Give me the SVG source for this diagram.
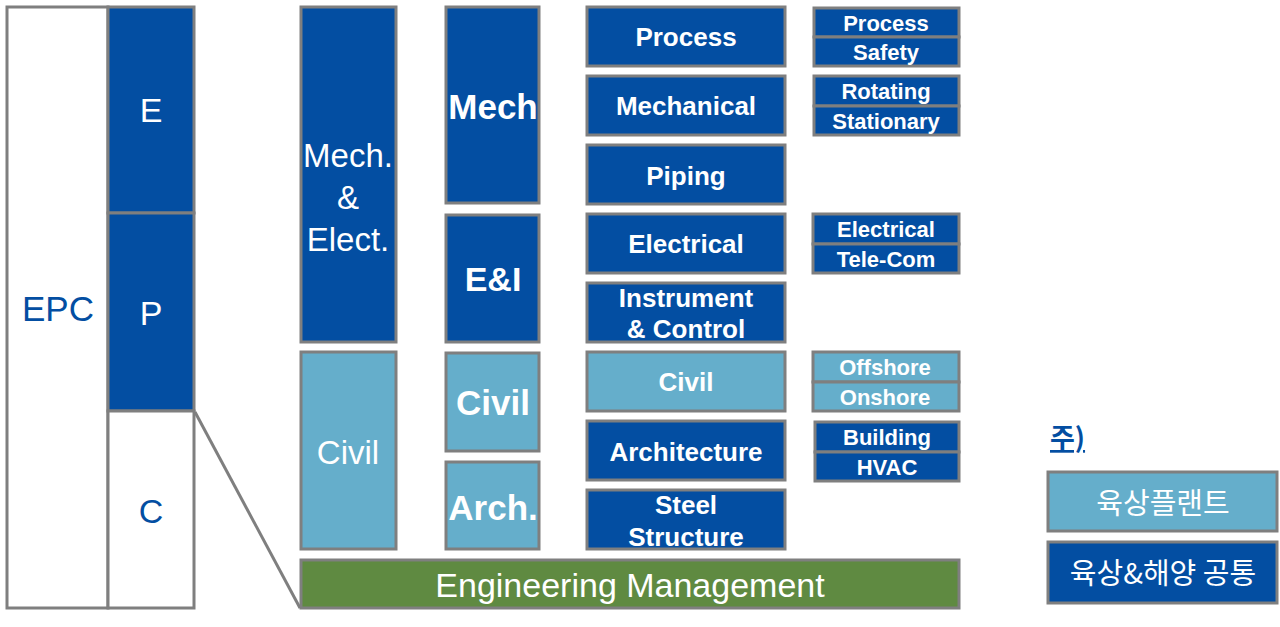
<svg xmlns="http://www.w3.org/2000/svg" width="1280" height="627" viewBox="0 0 1280 627">
<style>
.b{stroke:#7f7f7f;stroke-width:3}
.d{fill:#034ea2}
.l{fill:#65aecb}
.w{fill:#fff}
.t{font-family:"Liberation Sans",Arial,sans-serif;text-anchor:middle;dominant-baseline:central;fill:#fff}
.bd{font-weight:bold}
.k{font-family:"Noto Sans CJK KR",sans-serif;text-anchor:middle;dominant-baseline:central;fill:#fff}
</style>
<rect width="1280" height="627" fill="#fff"/>
<g id="connectors">
<line x1="195" y1="412" x2="300" y2="608" stroke="#7f7f7f" stroke-width="3"/>
</g>
<g id="epc"><rect class="b w" x="7" y="7" width="101" height="601"/><text class="t" x="58" y="308" style="fill:#034ea2;font-size:35px">EPC</text></g>
<g id="e"><rect class="b d" x="108" y="7" width="86" height="206"/><text class="t" x="151" y="110" font-size="34">E</text></g>
<g id="p"><rect class="b d" x="108" y="213" width="86" height="198"/><text class="t" x="151" y="313" font-size="34">P</text></g>
<g id="c"><rect class="b w" x="108" y="411" width="86" height="197"/><text class="t" x="151" y="511" style="fill:#034ea2;font-size:34px">C</text></g>

<g id="mech-elect"><rect class="b d" x="301" y="7" width="95" height="335"/><text class="t" font-size="33"><tspan x="348" y="155">Mech.</tspan><tspan x="348" y="197">&amp;</tspan><tspan x="348" y="239">Elect.</tspan></text></g>
<g id="civil-big"><rect class="b l" x="301" y="352" width="95" height="197"/><text class="t" x="348" y="452" font-size="33">Civil</text></g>
<g id="mech"><rect class="b d" x="446" y="7" width="93" height="196"/><text class="t bd" x="493" y="106" font-size="35">Mech</text></g>
<g id="ei"><rect class="b d" x="446" y="215" width="93" height="127"/><text class="t bd" x="493" y="279" font-size="34">E&amp;I</text></g>
<g id="civil2"><rect class="b l" x="446" y="353" width="93" height="98"/><text class="t bd" x="493" y="402" font-size="35">Civil</text></g>
<g id="arch"><rect class="b l" x="446" y="462" width="93" height="87"/><text class="t bd" x="493" y="507" font-size="35">Arch.</text></g>
<g id="em"><rect class="b" fill="#5f8a41" x="301" y="560" width="658" height="48"/><text class="t" x="630" y="585" font-size="34">Engineering Management</text></g>

<g id="process"><rect class="b d" x="587" y="7" width="198" height="59"/><text class="t bd" x="686" y="37" font-size="26">Process</text></g>
<g id="mechanical"><rect class="b d" x="587" y="76" width="198" height="59"/><text class="t bd" x="686" y="106" font-size="26">Mechanical</text></g>
<g id="piping"><rect class="b d" x="587" y="145" width="198" height="59"/><text class="t bd" x="686" y="176" font-size="26">Piping</text></g>
<g id="electrical"><rect class="b d" x="587" y="214" width="198" height="59"/><text class="t bd" x="686" y="244" font-size="26">Electrical</text></g>
<g id="instrument"><rect class="b d" x="587" y="283" width="198" height="59"/><text class="t bd" font-size="26"><tspan x="686" y="298">Instrument</tspan><tspan x="686" y="329">&amp; Control</tspan></text></g>
<g id="civil3"><rect class="b l" x="587" y="352" width="198" height="59"/><text class="t bd" x="686" y="382" font-size="26">Civil</text></g>
<g id="architecture"><rect class="b d" x="587" y="421" width="198" height="59"/><text class="t bd" x="686" y="452" font-size="26">Architecture</text></g>
<g id="steel"><rect class="b d" x="587" y="490" width="198" height="59"/><text class="t bd" font-size="26"><tspan x="686" y="505">Steel</tspan><tspan x="686" y="537">Structure</tspan></text></g>

<g id="process-safety"><rect class="b d" x="814" y="8" width="145" height="29"/><rect class="b d" x="814" y="37" width="145" height="29"/><text class="t bd" x="886" y="23" font-size="22">Process</text><text class="t bd" x="886" y="52" font-size="22">Safety</text></g>
<g id="rotating-stationary"><rect class="b d" x="814" y="76" width="145" height="30"/><rect class="b d" x="814" y="106" width="145" height="29"/><text class="t bd" x="886" y="91" font-size="22">Rotating</text><text class="t bd" x="886" y="121" font-size="22">Stationary</text></g>
<g id="elec-telecom"><rect class="b d" x="813" y="214" width="146" height="30"/><rect class="b d" x="813" y="244" width="146" height="29"/><text class="t bd" x="886" y="229" font-size="22">Electrical</text><text class="t bd" x="886" y="259" font-size="22">Tele-Com</text></g>
<g id="offshore-onshore"><rect class="b l" x="813" y="352" width="146" height="30"/><rect class="b l" x="813" y="382" width="146" height="29"/><text class="t bd" x="885" y="367" font-size="22">Offshore</text><text class="t bd" x="885" y="397" font-size="22">Onshore</text></g>
<g id="building-hvac"><rect class="b d" x="815" y="422" width="144" height="30"/><rect class="b d" x="815" y="452" width="144" height="29"/><text class="t bd" x="887" y="437" font-size="22">Building</text><text class="t bd" x="887" y="467" font-size="22">HVAC</text></g>

<g id="legend">
<text x="1050" y="448" font-family="'Noto Sans CJK KR',sans-serif" font-weight="bold" font-size="27" fill="#034ea2" text-decoration="underline">주)</text>
<rect class="b l" x="1048" y="472" width="229" height="59"/><text class="k" x="1163" y="501" font-size="29">육상플랜트</text>
<rect class="b d" x="1048" y="542" width="229" height="61"/><text class="k" x="1163" y="571" font-size="29">육상&amp;해양 공통</text>
</g>
</svg>
